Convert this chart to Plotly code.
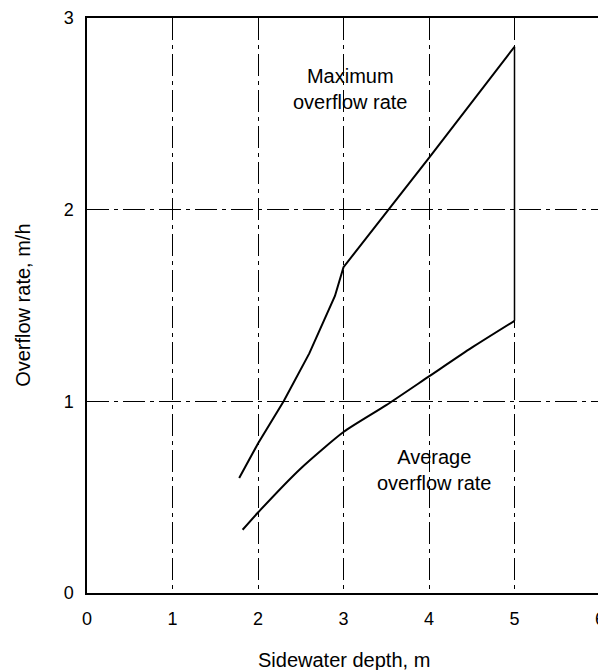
import plotly.graph_objects as go

# Maximum overflow rate curve (sidewater depth m, overflow rate m/h)
max_depth = [1.78, 2.0, 2.3, 2.6, 2.9, 3.0, 4.0, 5.0]
max_rate = [0.60, 0.78, 1.0, 1.25, 1.55, 1.70, 2.27, 2.85]

# Average overflow rate curve
avg_depth = [1.82, 2.0, 2.5, 3.0, 3.5, 4.0, 4.5, 5.0]
avg_rate = [0.33, 0.42, 0.65, 0.84, 0.98, 1.13, 1.28, 1.42]

x_ticks = [0, 1, 2, 3, 4, 5, 6]
y_ticks = [0, 1, 2, 3]

font = dict(family="Liberation Sans, Arial, sans-serif", size=20, color="black")
tick_font = dict(family="Liberation Sans, Arial, sans-serif", size=18, color="black")

fig = go.Figure()
fig.add_trace(go.Scatter(x=max_depth, y=max_rate, mode="lines",
                         line=dict(color="black", width=2), showlegend=False))
fig.add_trace(go.Scatter(x=avg_depth, y=avg_rate, mode="lines",
                         line=dict(color="black", width=2, shape="spline", smoothing=0.6),
                         showlegend=False))
# right end of both curves joined at depth 5
fig.add_trace(go.Scatter(x=[max_depth[-1], avg_depth[-1]], y=[max_rate[-1], avg_rate[-1]],
                         mode="lines", line=dict(color="black", width=1.5), showlegend=False))

fig.add_annotation(x=3.08, y=2.63, text="Maximum<br>overflow rate", showarrow=False,
                   font=font, xref="x", yref="y")
fig.add_annotation(x=4.06, y=0.64, text="Average<br>overflow rate", showarrow=False,
                   font=font, xref="x", yref="y")
fig.add_annotation(x=-0.126, y=0.5, xref="paper", yref="paper", text="Overflow rate, m/h",
                   textangle=-90, showarrow=False, font=font,
                   xanchor="center", yanchor="middle")
fig.add_annotation(x=0.5, y=-0.1165, xref="paper", yref="paper", text="Sidewater depth, m",
                   showarrow=False, font=font, xanchor="center", yanchor="middle")

axis_style = dict(showline=True, linecolor="black", linewidth=1.5, mirror=True,
                  showgrid=True, gridcolor="black", gridwidth=1,
                  griddash="22px,5px,4px,5px", zeroline=False, ticks="",
                  tickfont=tick_font, automargin=False, ticklabeloverflow="allow")
fig.update_xaxes(range=[0, 6], tickvals=x_ticks, ticklabelstandoff=9, **axis_style)
fig.update_yaxes(range=[0, 3], tickvals=y_ticks, ticklabelstandoff=8, **axis_style)

# the page adds an 8px body margin, so the figure is sized to fit inside the window
fig.update_layout(
    width=598, height=662,
    margin=dict(l=79, r=6, t=10, b=77),
    plot_bgcolor="white", paper_bgcolor="white",
    font=font,
)

fig.write_html("out.html")
